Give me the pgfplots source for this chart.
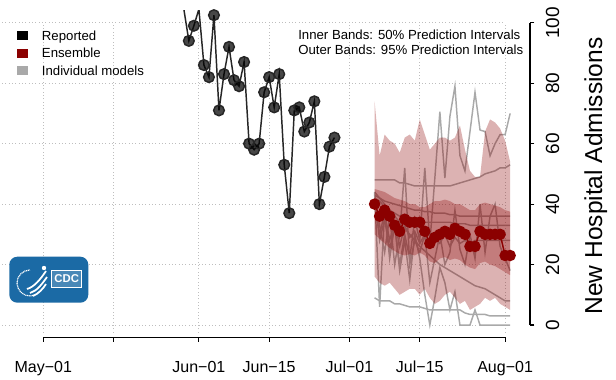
\documentclass[border=0pt]{standalone}
\usepackage{pgfplots}
\pgfplotsset{compat=1.18}
\usepackage{pgfplotstable}
\usepgfplotslibrary{fillbetween}
\usepackage{fontspec}
\setmainfont{Liberation Sans}

\definecolor{ensred}{HTML}{8B0000}
\definecolor{modgray}{HTML}{A9A9A9}
\definecolor{gridgray}{HTML}{BEBEBE}
\definecolor{cdcblue}{HTML}{1B6AA5}

% days counted from May-01 (day 0)
\pgfplotstableread{
d y
28 104.5
29 94
30 99
31 104.5
32 86
33 82
34 102.5
35 71
36 83
37 92
38 81
39 79
40 87
41 60
42 58
43 60
44 77
45 82
46 72
47 83
48 53
49 37
50 71
51 72
52 64
53 67
54 74
55 40
56 49
57 59
58 62
}\rep

\pgfplotstableread{
d ens lo95 lo50 hi50 hi95
66 40 16 30 45 74
67 36 14 28.5 44.5 56
68 38 13 27 44 63
69 36 14 25.5 43 61
70 33 12 24.5 42 60
71 31 10 23.5 41.5 57
72 35 11 23 41 62
73 34 12 23.5 40 63
74 34 12 23 40 61
75 34 10 24 39 68
76 31 12 23 39 63
77 27 9 21 40 58
78 29 7 20.5 41 60
79 30 8 22 41 62
80 31 10 22.5 41.5 62
81 30 11 21.5 41 61
82 32 9 22 40 62
83 31 7 21.5 40 66
84 30 8 20 39 58
85 26 5 19 38 51
86 26 6 18.5 38 49
87 31 7 20.5 40 49
88 30 9 21 40.5 64
89 30 8 20 40 68
90 30 9 19.5 39.5 67
91 30 7 18.5 39 65
92 23 6 17.5 38 61
93 23 5 16.5 37.5 54
}\ens

\pgfplotstableread{
d m1 m2 m3 m4 m5 m6 m7 m8 m9
66 48 44 43 42 40 41 43 9 44
67 48 42 42 41 30 33 28 8 6
68 48 40 41 39 37 24 35 8 38
69 48 38 40.5 38 28 36 25 8 22
70 48 36 40 37 34 20 33 7 33
71 47 34 39.5 36 26 30 20 7 18
72 47 32 39 35.5 33 52 30 6.5 28
73 46.5 30 38.5 35 29 20 22 6 15
74 46 28 38 35 31 28 35 6 30
75 46 26 38 34.5 27 24 28 6 22
76 46 24.5 37.5 34 30 30 52 5.5 10
77 46 23 37.5 34 26 14 27 5 0
78 46 21.5 37 34 29 22 48.6 5 9
79 46 20 37 34 27 30 70.6 5 19
80 46 19 37 34 30 20 48.6 5 14
81 46 18 36.5 34 26 24 69 5 5
82 46.5 17 36.5 33.5 29 38 79 5 11
83 47 16 36 33.5 27 25 56 5 0
84 47.5 15 36 33.5 28 20 51 4 0
85 48 14 36 33 27 30 64 3.5 0
86 48.5 13 36 33 28 22 77 3.5 5
87 49 12.5 36 33 28 40 64.5 3.5 0
88 50 12 36 33 28 24 64 3.5 0
89 50.5 11 36 33 28 36 56 3 0
90 51 10 36 33 28 40 60 3 0
91 52 9 36 33 28 26 63 3 0
92 52 8 36 33 28 22 63 3 0
93 53 8 36 33 28 18 70 3 0
}\mods

\begin{document}
\begin{tikzpicture}
\begin{axis}[
    set layers,
    at={(1.575pt,31.275pt)}, anchor=south west,
    scale only axis, width=395.9pt, height=245pt,
    xmin=-8.2, xmax=96.95, ymin=-4.06, ymax=104,
    axis line style={draw=none},
    clip mode=individual,
    xtick={0,14,31,45,61,75,92},
    xticklabels={May−01,,Jun−01,Jun−15,Jul−01,Jul−15,Aug−01},
    ytick={0,20,40,60,80,100},
    yticklabels={0,20,40,60,80,100},
    xtick pos=left, ytick pos=right,
    tick align=outside,
    major tick length=3.3pt,
    tick style={black, line width=0.9pt},
    xticklabel style={font=\fontsize{12}{14}\selectfont, anchor=base, yshift=-23pt},
    yticklabel style={font=\fontsize{14.25}{16}\selectfont, rotate=90, anchor=north, inner sep=0pt},
    yticklabel shift=8.5pt,
]

% dotted grid
\begin{pgfonlayer}{axis grid}
\pgfplotsinvokeforeach{0,20,40,60,80,100}{
  \draw[gridgray, line width=0.75pt, dash pattern=on 0.75pt off 1.75pt] (axis cs:-8.2,#1) -- (axis cs:92,#1);
}
\pgfplotsinvokeforeach{0,14,31,45,61,75,92}{
  \draw[gridgray, line width=0.75pt, dash pattern=on 0.75pt off 1.75pt] (axis cs:#1,-2.5) -- (axis cs:#1,100);
}
\end{pgfonlayer}

% individual models (under the bands)
\pgfplotsinvokeforeach{1,...,9}{
  \addplot[modgray, line width=1.1pt, on layer=pre main] table[x=d, y=m#1]{\mods};
}

% prediction bands
\addplot[draw=none, name path=u95] table[x=d, y=hi95]{\ens};
\addplot[draw=none, name path=l95] table[x=d, y=lo95]{\ens};
\addplot[fill=ensred, fill opacity=0.3, draw=none] fill between[of=u95 and l95];
\addplot[draw=none, name path=u50] table[x=d, y=hi50]{\ens};
\addplot[draw=none, name path=l50] table[x=d, y=lo50]{\ens};
\addplot[fill=ensred, fill opacity=0.3, draw=none] fill between[of=u50 and l50];

% ensemble
\addplot[ensred, line width=1.1pt, mark=*, mark size=3.75pt,
  mark options={draw=none, fill=ensred}] table[x=d, y=ens]{\ens};

% reported
\addplot[black!85, line width=1.1pt, mark=*, mark size=4pt,
  mark options={draw=none, fill=black, fill opacity=0.72}] table[x=d, y=y]{\rep};

% axis lines spanning the tick range only
\draw[line width=0.9pt] (axis cs:0,-4.06) -- (axis cs:92,-4.06);
\draw[line width=0.9pt] (axis cs:96.95,0) -- (axis cs:96.95,100);
\end{axis}

% everything below in pixel units of the reference, y downwards
\begin{scope}[x=0.75pt, y=-0.75pt, yshift=284.25pt]
% legend
\fill[black]  (17.3,31.3) rectangle (27.8,40.3);
\fill[ensred] (17.3,48.8) rectangle (27.8,57.8);
\fill[modgray](17.3,66.3) rectangle (27.8,75.3);
\begin{scope}[every node/.style={anchor=base west, inner sep=0pt, font=\fontsize{9.9}{12}\selectfont}]
\node at (41.7,40.3) {Reported};
\node at (41.7,57.8) {Ensemble};
\node at (41.7,75.3) {Individual models};
\node at (298,39.5) {Inner Bands: 50\% Prediction Intervals};
\node at (298,55) {Outer Bands: 95\% Prediction Intervals};
\end{scope}

% axis title
\node[rotate=90, anchor=base, inner sep=0pt, font=\fontsize{18.4}{20}\selectfont] at (602,176) {New Hospital Admissions};

% CDC logo
\fill[cdcblue, rounded corners=6pt] (9.3,256.7) rectangle (88.3,302.7);
\draw[white, line width=0.9pt, dash pattern=on 0.8pt off 0.5pt] (30,283) ++(45:13) arc[start angle=45, end angle=270, radius=13];
\draw[white, line width=1.3pt] (27,289) .. controls (34,287) and (40,280) .. (46,271);
\draw[white, line width=1.3pt] (30,293) .. controls (37,291) and (42,284) .. (47,277);
\draw[white, line width=1.3pt] (33,296) .. controls (38,294) and (43,289) .. (46,284);
\fill[white] (44,268) circle (2.2);
\fill[cdcblue!80!white] (51.7,270.7) rectangle (81.7,287.3);
\draw[white, line width=0.7pt] (51.7,270.7) rectangle (81.7,287.3);
\node[white, inner sep=0pt, font=\bfseries\fontsize{8.5}{9}\selectfont] at (66.7,279) {CDC};
\end{scope}

\pgfresetboundingbox
\path[use as bounding box] (0,0) rectangle (462pt,284.25pt);
\end{tikzpicture}
\end{document}
